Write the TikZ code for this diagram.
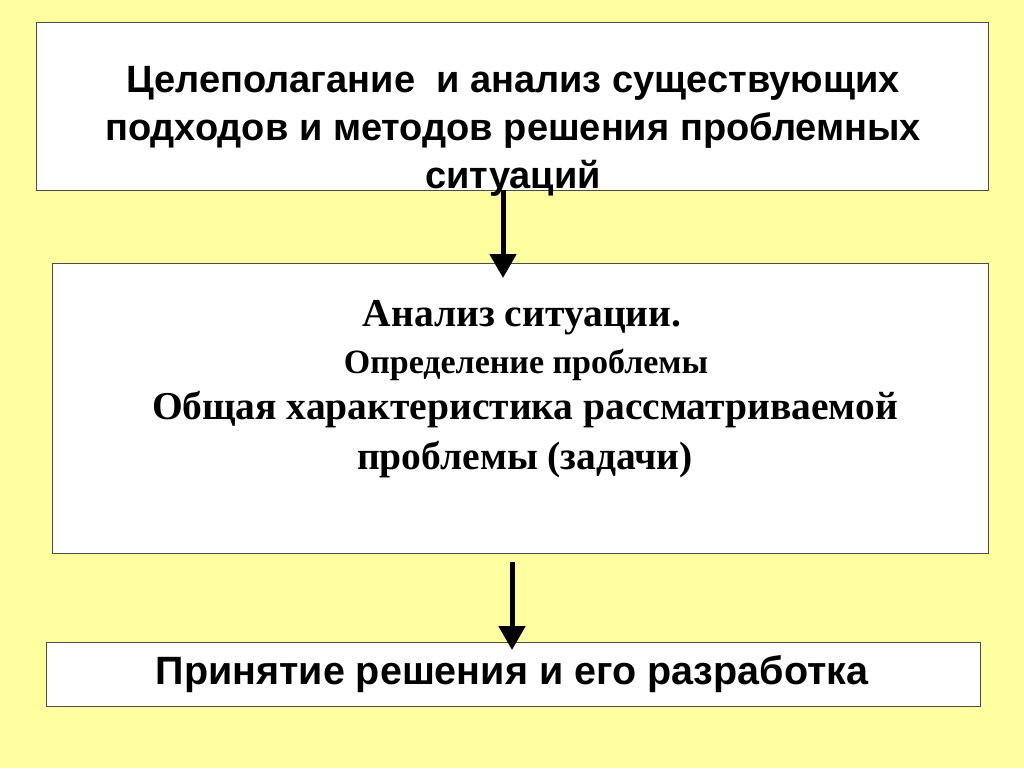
\documentclass[tikz,border=0pt]{standalone}
\usepackage{fontspec}
\setmainfont{Liberation Serif}
\setsansfont{Liberation Sans}
\usetikzlibrary{arrows.meta}
\definecolor{bg}{RGB}{255,255,160}
\tikzset{box/.style={draw=black!70,fill=white,line width=0.8pt},
 arr/.style={line width=5pt,-{Triangle[length=24pt,width=26pt]}}}
\begin{document}
\begin{tikzpicture}[x=1pt,y=-1pt]
\fill[bg] (0,0) rectangle (1024,768);
\useasboundingbox (0,0) rectangle (1024,768);
\draw[box] (36,22) rectangle (988,190);
\draw[box] (52,263) rectangle (988,553);
\draw[box] (46,642) rectangle (980,706);
\node[font=\sffamily\bfseries\fontsize{38}{48}\selectfont,align=center] (t1) at (513,131) {Целеполагание\ \ и анализ существующих\\подходов и методов решения проблемных\\ситуаций};
\node[font=\bfseries\fontsize{39.5}{44}\selectfont] (t2a) at (522,318) {Анализ ситуации.};
\node[font=\bfseries\fontsize{34}{38}\selectfont] (t2b) at (526,365) {Определение проблемы};
\node[font=\bfseries\fontsize{39.5}{50}\selectfont,align=center] (t2c) at (525,435) {Общая характеристика рассматриваемой\\проблемы (задачи)};
\node[font=\sffamily\bfseries\fontsize{39.5}{44}\selectfont] (t3) at (512,674) {Принятие решения и его разработка};
\coordinate (a1) at (503,190); \coordinate (b1) at (503,278);
\coordinate (a2) at (512,562); \coordinate (b2) at (512,650);
\draw[arr] (a1) -- (b1);
\draw[arr] (a2) -- (b2);
\end{tikzpicture}
\end{document}
